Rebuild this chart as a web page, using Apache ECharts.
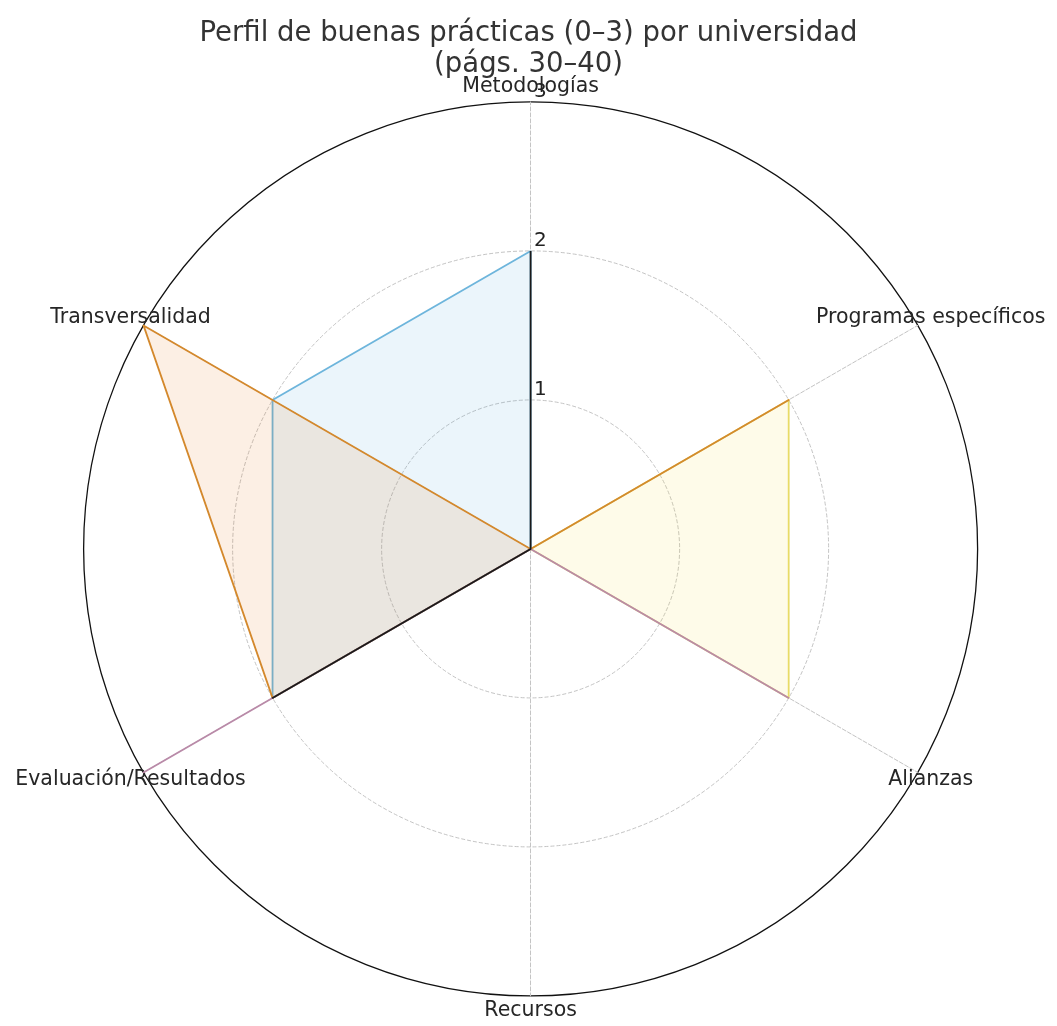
<!DOCTYPE html>
<html>
<head>
<meta charset="utf-8">
<script src="https://cdn.jsdelivr.net/npm/echarts@6/dist/echarts.min.js"></script>
<style>
  html, body { margin: 0; padding: 0; background: #fff; }
  #main { width: 1057px; height: 1026px; }
</style>
</head>
<body>
<div id="main"></div>
<script>
// axis order as echarts draws it (counter-clockwise from the top)
const categories = [
  "Metodologías",
  "Transversalidad",
  "Evaluación/Resultados",
  "Recursos",
  "Alianzas",
  "Programas específicos",
];
const radialTicks = [1, 2, 3];

const uniA = [2, 2, 2, 0, 0, 0];
const uniB = [0, 0, 0, 0, 2, 2];
const uniC = [0, 3, 2, 0, 0, 2];
const uniD = [0, 0, 3, 0, 2, 0];
const uniE = [2, 0, 2, 0, 0, 0];

const seriesNames = ["Universidad A", "Universidad B", "Universidad C", "Universidad D", "Universidad E"];
const seriesData = [uniA, uniB, uniC, uniD, uniE];
const lineColors = ["#6fb6dc", "#e8dc6a", "#d38a2e", "#b98aa8", "#1a1a1a"];
const fillColors = ["#5dade2", "#f4e04d", "#e67e22", "#b07aa1", "#555555"];

const center = ["50.2%", "53.5%"];
const radius = 447;

const chart = echarts.init(document.getElementById("main"));

chart.setOption({
  animation: false,
  backgroundColor: "#fff",
  textStyle: { fontFamily: "DejaVu Sans" },
  title: {
    text: "Perfil de buenas prácticas (0–3) por universidad\n(págs. 30–40)",
    left: "center",
    top: 13,
    textStyle: {
      fontFamily: "DejaVu Sans",
      fontWeight: "normal",
      fontSize: 27.5,
      lineHeight: 31,
      color: "#333",
    },
  },
  polar: { center: center, radius: radius },
  angleAxis: {
    type: "value",
    min: 0,
    max: 360,
    startAngle: 90,
    axisLine: { show: true, lineStyle: { color: "#111", width: 1.3 } },
    axisTick: { show: false },
    axisLabel: { show: false },
    splitLine: { show: false },
  },
  radiusAxis: {
    type: "value",
    min: 0,
    max: 3,
    interval: 1,
    axisLine: { show: false },
    axisTick: { show: false },
    splitLine: { show: false },
    z: 20,
    axisLabel: {
      fontSize: 20,
      color: "#222",
      margin: -16,
      verticalAlign: "bottom",
      formatter: (v) => (radialTicks.includes(v) ? String(v) : ""),
    },
  },
  radar: {
    center: center,
    radius: radius,
    shape: "circle",
    startAngle: 90,
    min: 0,
    splitNumber: 3,
    indicator: categories.map((name) => ({ name: name, min: 0, max: 3 })),
    nameGap: 15,
    axisName: {
      color: "#262626",
      fontSize: 20.5,
      fontFamily: "DejaVu Sans",
      align: "center",
      verticalAlign: "middle",
    },
    axisLine: { lineStyle: { color: "#c4c4c4", type: "dashed", width: 1 } },
    splitLine: {
      lineStyle: {
        color: ["#c4c4c4", "#c4c4c4", "#c4c4c4", "rgba(0,0,0,0)"],
        type: "dashed",
        width: 1,
      },
    },
    splitArea: { show: false },
    axisTick: { show: false },
    axisLabel: { show: false },
  },
  series: seriesData.map((vals, i) => ({
    type: "radar",
    name: seriesNames[i],
    z: 2 + i,
    symbol: "none",
    lineStyle: { color: lineColors[i], width: 1.8 },
    areaStyle: { color: fillColors[i], opacity: 0.12 },
    data: [{ value: vals, name: seriesNames[i] }],
  })),
});
</script>
</body>
</html>
